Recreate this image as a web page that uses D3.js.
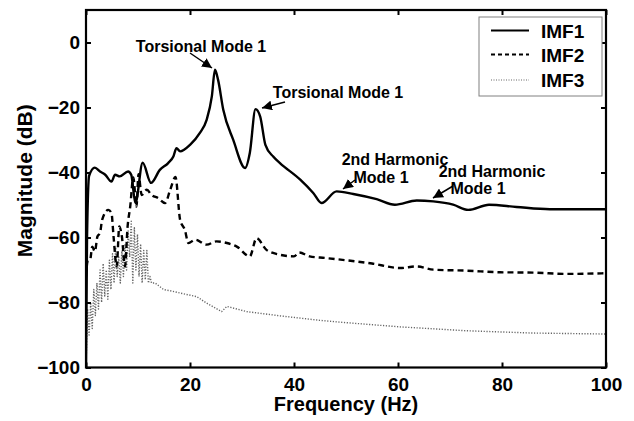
<!DOCTYPE html>
<html><head><meta charset="utf-8">
<script src="https://cdn.jsdelivr.net/npm/d3@7"></script>
<style>
html,body{margin:0;padding:0;background:#fff;}
text{font-family:"Liberation Sans",Arial,Helvetica,sans-serif;font-weight:bold;fill:#000;}
</style></head>
<body><svg id="c" width="634" height="421"></svg>
<script>
// ---- data ----
const xTicks = [0, 20, 40, 60, 80, 100];
const yTicks = [0, -20, -40, -60, -80, -100];
const seriesNames = ["IMF1", "IMF2", "IMF3"];

const imf1Freq = [0, 0.2, 0.6, 1.7, 2.7, 3.7, 4.9, 5.6, 6.5, 8.1, 8.7, 9.5, 10.9, 12.5, 14.2, 15.8, 16.8, 17.4, 18.1, 20, 21.9, 23.2, 24.2, 24.8, 25.4, 26.4, 28.3, 30.6, 31.5, 32.6, 33.5, 34.5, 36, 37.3, 41.2, 43.7, 45.3, 48.2, 51.4, 55.9, 59.4, 63.6, 66.8, 70.6, 73.5, 77.5, 82.8, 89.2, 100];
const imf1Val  = [-100, -60, -41, -38.5, -39.7, -40.7, -42.8, -40.7, -41.2, -39.7, -40.7, -49.4, -37, -43.2, -39.2, -37.1, -35.1, -32.5, -33.5, -31.5, -27.8, -23.8, -16.6, -8.4, -11.5, -20.7, -29.9, -38.6, -34, -20.5, -22.8, -31.5, -35.1, -37.1, -42.2, -46.3, -49.4, -45.8, -46.6, -48.2, -49.9, -48.6, -48.9, -49.9, -51.5, -49.9, -50.6, -51.3, -51.3];

const imf2Freq = [0, 0.3, 0.8, 1.2, 1.7, 2.2, 2.7, 3.1, 4.3, 4.9, 5.3, 5.9, 6.4, 6.9, 7.5, 8.0, 8.5, 9.1, 9.7, 10.1, 10.7, 11.7, 12.6, 13.9, 15.2, 16.2, 17.2, 18.1, 19.0, 19.7, 21.0, 23.2, 25.1, 27.1, 29.0, 31.5, 32.8, 34.7, 37.3, 40, 41, 43, 46, 50, 55, 60.4, 63.6, 66.8, 73.2, 79.6, 86, 92.4, 100];
const imf2Val  = [-72, -67.4, -66.9, -62.8, -64.3, -59.7, -58.6, -54.6, -51.5, -52.5, -59.7, -68.9, -56.6, -59.7, -68.9, -56.6, -50.5, -41.5, -50.5, -40.5, -46.9, -45.3, -46.9, -47.9, -49.4, -45.3, -41.4, -54.6, -57.6, -61.7, -60.7, -62.2, -61.2, -61.7, -62.8, -65.8, -60.2, -63.8, -65.3, -65.8, -64.6, -65.8, -66.3, -67, -68, -69.4, -68.9, -69.9, -70.2, -70.7, -70.8, -71.2, -71];

const imf3Freq = [0, 0.3, 0.6, 0.9, 1.2, 1.5, 1.8, 2.1, 2.4, 2.7, 3.0, 3.3, 3.6, 3.9, 4.2, 4.5, 4.8, 5.1, 5.4, 5.7, 6.0, 6.3, 6.6, 6.9, 7.2, 7.5, 7.8, 8.1, 8.4, 8.7, 9.0, 9.3, 9.6, 9.9, 10.2, 10.5, 10.8, 11.1, 11.4, 11.7, 12.0, 12.3, 12.6, 13.3, 14.9, 16.5, 18.1, 21.3, 23.2, 26.1, 27.1, 30.9, 37.3, 45, 50, 60.4, 73.2, 86, 100];
const imf3Val  = [-100, -82, -90, -80, -88, -76, -84, -74, -82, -70, -80, -68, -78, -70, -79, -67, -76, -65, -74, -63, -72, -66, -74, -64, -72, -62, -70, -58, -66, -55, -74, -57, -70, -59, -72, -62, -74, -64, -73, -64, -74, -72, -74, -74, -76, -76.5, -77.1, -78.2, -80.2, -82.8, -81.2, -82.8, -84.1, -85.5, -86.2, -87.5, -88.7, -89.4, -89.7];

const annotations = [
  {lines:["Torsional Mode 1"], x:[201], y:[52], arrow:[190,53,212,68]},
  {lines:["Torsional Mode 1"], x:[338], y:[98], arrow:[285,102,262,108]},
  {lines:["2nd Harmonic","Mode 1"], x:[395,381], y:[165,183], arrow:[355,180,343,189]},
  {lines:["2nd Harmonic","Mode 1"], x:[492,478], y:[177,194], arrow:[453,186,433,198]}
];

// ---- chart ----
const svg = d3.select("#c");
const L = 86, R = 606, T = 10, B = 367.5;
const x = d3.scaleLinear().domain([0, 100]).range([L, R]);
const y = d3.scaleLinear().domain([-100, 10]).range([B, T]);

svg.append("defs").append("clipPath").attr("id","clip")
  .append("rect").attr("x",L).attr("y",T).attr("width",R-L).attr("height",B-T);
const defs = svg.select("defs");
defs.append("marker").attr("id","arr").attr("viewBox","0 0 10 10").attr("refX",10).attr("refY",5)
  .attr("markerWidth",10).attr("markerHeight",10).attr("markerUnits","userSpaceOnUse").attr("orient","auto")
  .append("path").attr("d","M0,0 L10,5 L0,10 z").attr("fill","#000");

const series = [
  {f: imf1Freq, v: imf1Val, dash: null, color: "#000", w: 2.4, curve: d3.curveMonotoneX},
  {f: imf2Freq, v: imf2Val, dash: "6,4", color: "#000", w: 2.4, curve: d3.curveMonotoneX},
  {f: imf3Freq, v: imf3Val, dash: "1.2,1.6", color: "#666", w: 1.4, curve: d3.curveLinear}
];

const g = svg.append("g").attr("clip-path","url(#clip)");
series.slice().reverse().forEach(s => {
  const pts = s.f.map((f,i) => [f, s.v[i]]);
  const line = d3.line().x(d => x(d[0])).y(d => y(d[1])).curve(s.curve);
  g.append("path").attr("d", line(pts)).attr("fill","none")
    .attr("stroke", s.color).attr("stroke-width", s.w)
    .attr("stroke-dasharray", s.dash).attr("stroke-linejoin","round");
});

// axes
const tickLen = 5;
const xAxB = d3.axisBottom(x).tickValues(xTicks).tickSizeInner(-tickLen).tickSizeOuter(0).tickPadding(10);
const xAxT = d3.axisTop(x).tickValues(xTicks).tickSizeInner(-tickLen).tickSizeOuter(0).tickFormat("");
const yAxL = d3.axisLeft(y).tickValues(yTicks).tickSizeInner(-tickLen).tickSizeOuter(0).tickPadding(6);
const yAxR = d3.axisRight(y).tickValues(yTicks).tickSizeInner(-tickLen).tickSizeOuter(0).tickFormat("");

function style(sel){
  sel.select(".domain").remove();
  sel.selectAll(".tick line").attr("stroke","#000").attr("stroke-width",2);
  sel.selectAll(".tick text").style("font-size","19px").attr("fill","#000");
}
svg.append("g").attr("transform",`translate(0,${B})`).call(xAxB).call(style);
svg.append("g").attr("transform",`translate(0,${T})`).call(xAxT).call(style);
svg.append("g").attr("transform",`translate(${L},0)`).call(yAxL).call(style);
svg.append("g").attr("transform",`translate(${R},0)`).call(yAxR).call(style);

svg.append("rect").attr("x",L).attr("y",T).attr("width",R-L).attr("height",B-T)
  .attr("fill","none").attr("stroke","#000").attr("stroke-width",2.2);

// axis titles
svg.append("text").attr("x",(L+R)/2).attr("y",411).attr("text-anchor","middle")
  .style("font-size","20px").text("Frequency (Hz)");
svg.append("text").attr("transform",`translate(32,${(T+B)/2 - 8}) rotate(-90)`).attr("text-anchor","middle")
  .style("font-size","21px").text("Magnitude (dB)");

// annotations
annotations.forEach(a => {
  a.lines.forEach((t,i) => {
    svg.append("text").attr("x",a.x[i]).attr("y",a.y[i]).attr("text-anchor","middle")
      .style("font-size","16px").text(t);
  });
  svg.append("line").attr("x1",a.arrow[0]).attr("y1",a.arrow[1]).attr("x2",a.arrow[2]).attr("y2",a.arrow[3])
    .attr("stroke","#000").attr("stroke-width",1.5).attr("marker-end","url(#arr)");
});

// legend
const lg = svg.append("g");
lg.append("rect").attr("x",479).attr("y",17).attr("width",123).attr("height",79)
  .attr("fill","#fff").attr("stroke","#808080").attr("stroke-width",1);
const rowsY = [30.5, 54.5, 80];
series.forEach((s,i) => {
  lg.append("line").attr("x1",491).attr("x2",529).attr("y1",rowsY[i]).attr("y2",rowsY[i])
    .attr("stroke",s.color).attr("stroke-width", i===2 ? 1.2 : 2).attr("stroke-dasharray", i===1 ? "4,3" : (i===2 ? "1,1.5" : null));
  lg.append("text").attr("x",541).attr("y",rowsY[i]+7).style("font-size","19px").text(seriesNames[i]);
});
</script></body></html>
